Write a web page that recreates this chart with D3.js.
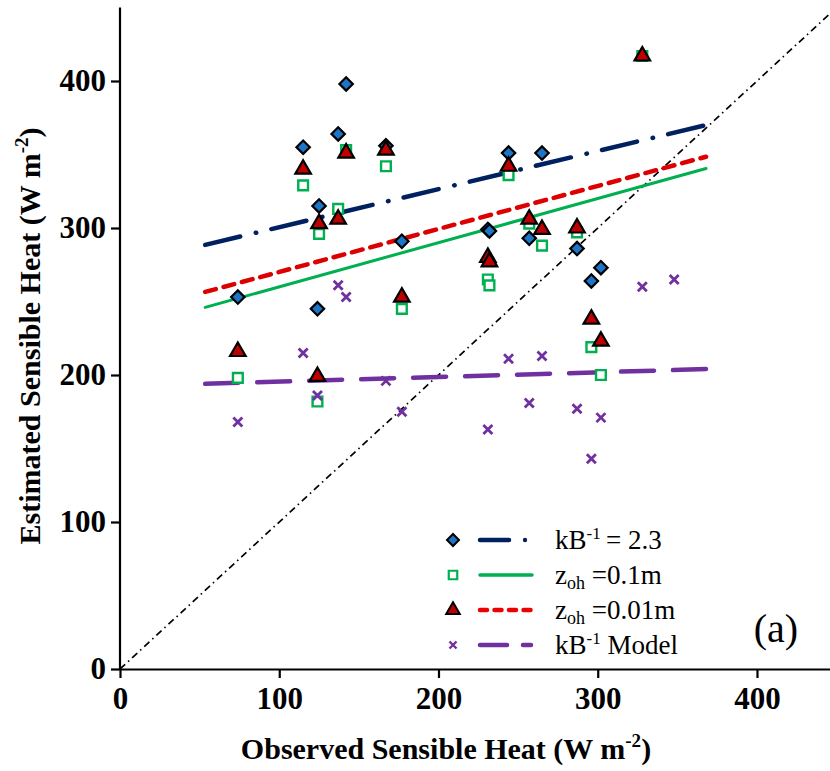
<!DOCTYPE html>
<html>
<head>
<meta charset="utf-8">
<script src="https://cdn.jsdelivr.net/npm/d3@7"></script>
<style>
  body { margin: 0; background: #fff; }
  svg { display: block; font-family: "Liberation Serif", "Times New Roman", Times, "DejaVu Serif", serif; }
</style>
</head>
<body>
<div id="chart"></div>
<script>
// observed sensible heat (x) and estimates from each method (y)
var observed = [74, 115, 124, 125, 137, 142, 167, 177, 231, 232, 244, 257, 265, 287, 296, 302, 328, 348];
var kb23     = [253, 355, 245, 315, 364, 398, 356, 291, 299, 298, 351, 293, 351, 286, 264, 273, null, null];
var zoh01    = [198, 329, 182, 296, 313, 353, 342, 245, 265, 261, 336, 303, 288, 297, 219, 200, 417, null];
var zoh001   = [216, 340, 199, 303, 306, 351, 353, 253, 280, 277, 342, 306, 299, 300, 238, 223, 417, null];
var kbModel  = [168, 215, 186, null, 261, 253, 196, 175, 163, null, 211, 181, 213, 177, 143, 171, 260, 265];

// fitted lines: [x start, y start, x end, y end]
var fitKb23   = [53.5, 288.5, 368, 370];
var fitZoh01  = [53.5, 246, 368, 340.5];
var fitZoh001 = [53.5, 256.5, 368, 348.5];
var fitModel  = [53.5, 194, 368, 204];

var xTicks = [0, 100, 200, 300, 400];
var yTicks = [0, 100, 200, 300, 400];

var W = 830, H = 771;
var svg = d3.select("#chart").append("svg")
    .attr("width", W)
    .attr("height", H);

var x = d3.scaleLinear().domain([0, 450]).range([120, 836.6]);
var y = d3.scaleLinear().domain([0, 450]).range([669, 7.5]);

svg.append("defs").append("clipPath").attr("id", "plot")
  .append("rect").attr("x", 120).attr("y", 0).attr("width", W - 120).attr("height", 669);

// 1:1 line
svg.append("line")
    .attr("clip-path", "url(#plot)")
    .attr("x1", x(0)).attr("y1", y(0))
    .attr("x2", x(450)).attr("y2", y(450))
    .attr("stroke", "#000")
    .attr("stroke-width", 1.7)
    .attr("stroke-dasharray", "7,4,1.5,4");

function fitLine(f, color, width, dash) {
  svg.append("line")
      .attr("x1", x(f[0])).attr("y1", y(f[1]))
      .attr("x2", x(f[2])).attr("y2", y(f[3]))
      .attr("stroke", color)
      .attr("stroke-width", width)
      .attr("stroke-linecap", "round")
      .attr("stroke-dasharray", dash);
}

fitLine(fitKb23, "#002060", 4.5, "36,16,0.5,15.5");
fitLine(fitZoh01, "#00B050", 3, null);
fitLine(fitZoh001, "#DD0000", 4.5, "11,8");
fitLine(fitModel, "#7030A0", 4.5, "33,19");

// marker shapes
var diamond = d3.symbol().type(d3.symbolSquare).size(90)();
var square = d3.symbol().type(d3.symbolSquare).size(95)();
var triangle = d3.symbol().type(d3.symbolTriangle).size(105)();
var cross = "M-4.5,-4.5L4.5,4.5M-4.5,4.5L4.5,-4.5";

function points(vals, path, fill, stroke, sw, rot) {
  var pts = observed.map(function(o, i) { return [o, vals[i]]; })
      .filter(function(d) { return d[1] != null; });
  svg.append("g").selectAll("path")
      .data(pts)
      .enter().append("path")
      .attr("d", path)
      .attr("transform", function(d) {
        return "translate(" + x(d[0]) + "," + y(d[1]) + ")" + (rot ? " rotate(45)" : "");
      })
      .attr("fill", fill)
      .attr("stroke", stroke)
      .attr("stroke-width", sw);
}

points(kb23, diamond, "#1C75C8", "#000", 2.2, true);
points(zoh01, square, "#fff", "#00B050", 2.4, false);
points(zoh001, triangle, "#C00000", "#000", 2.2, false);
points(kbModel, cross, "none", "#7030A0", 2.8, false);

// axes
var xAxis = svg.append("g")
    .attr("transform", "translate(0," + y(0) + ")")
    .call(d3.axisBottom(x).tickValues(xTicks).tickSize(9).tickSizeOuter(0).tickPadding(9));
var yAxis = svg.append("g")
    .attr("transform", "translate(" + x(0) + ",0)")
    .call(d3.axisLeft(y).tickValues(yTicks).tickSize(9).tickSizeOuter(0).tickPadding(5));

[xAxis, yAxis].forEach(function(a) {
  a.select(".domain").attr("stroke", "#000").attr("stroke-width", 2.2);
  a.selectAll(".tick line").attr("stroke", "#000").attr("stroke-width", 2.2);
  a.selectAll(".tick text")
      .attr("fill", "#000")
      .style("font-family", "'Liberation Serif', 'Times New Roman', serif")
      .style("font-weight", "bold")
      .style("font-size", "31px");
});
yAxis.select(".domain").attr("d", "M0," + y(0) + "V" + y(450));

// axis titles
var xt = svg.append("text")
    .attr("x", 446).attr("y", 759)
    .attr("text-anchor", "middle")
    .style("font-weight", "bold").style("font-size", "30px");
xt.append("tspan").text("Observed Sensible Heat (W m");
xt.append("tspan").attr("dy", -12).style("font-size", "19px").text("-2");
xt.append("tspan").attr("dy", 12).text(")");

var yt = svg.append("text")
    .attr("transform", "translate(40,336) rotate(-90)")
    .attr("text-anchor", "middle")
    .style("font-weight", "bold").style("font-size", "30px");
yt.append("tspan").text("Estimated Sensible Heat (W m");
yt.append("tspan").attr("dy", -12).style("font-size", "19px").text("-2");
yt.append("tspan").attr("dy", 12).text(")");

// legend
var legend = svg.append("g");
var rows = [540, 575, 610, 645];

legend.append("path").attr("d", d3.symbol().type(d3.symbolSquare).size(72)())
    .attr("transform", "translate(453," + rows[0] + ") rotate(45)")
    .attr("fill", "#1C75C8").attr("stroke", "#000").attr("stroke-width", 2);
legend.append("line").attr("x1", 480).attr("x2", 509).attr("y1", rows[0]).attr("y2", rows[0])
    .attr("stroke", "#002060").attr("stroke-width", 4.5).attr("stroke-linecap", "round");
legend.append("circle").attr("cx", 525).attr("cy", rows[0]).attr("r", 2.2).attr("fill", "#002060");

legend.append("path").attr("d", d3.symbol().type(d3.symbolSquare).size(72)())
    .attr("transform", "translate(453," + rows[1] + ")")
    .attr("fill", "#fff").attr("stroke", "#00B050").attr("stroke-width", 2.2);
legend.append("line").attr("x1", 480).attr("x2", 532).attr("y1", rows[1]).attr("y2", rows[1])
    .attr("stroke", "#00B050").attr("stroke-width", 3.5).attr("stroke-linecap", "round");

legend.append("path").attr("d", d3.symbol().type(d3.symbolTriangle).size(80)())
    .attr("transform", "translate(453," + rows[2] + ")")
    .attr("fill", "#C00000").attr("stroke", "#000").attr("stroke-width", 2);
legend.append("line").attr("x1", 480).attr("x2", 532).attr("y1", rows[2]).attr("y2", rows[2])
    .attr("stroke", "#EE0000").attr("stroke-width", 4.5).attr("stroke-linecap", "round")
    .attr("stroke-dasharray", "7,7.5");

legend.append("path").attr("d", "M-3.5,-3.5L3.5,3.5M-3.5,3.5L3.5,-3.5")
    .attr("transform", "translate(453," + rows[3] + ")")
    .attr("stroke", "#7030A0").attr("stroke-width", 2.4);
legend.append("line").attr("x1", 480).attr("x2", 507).attr("y1", rows[3]).attr("y2", rows[3])
    .attr("stroke", "#7030A0").attr("stroke-width", 4.5).attr("stroke-linecap", "round");
legend.append("line").attr("x1", 523).attr("x2", 531).attr("y1", rows[3]).attr("y2", rows[3])
    .attr("stroke", "#7030A0").attr("stroke-width", 4.5).attr("stroke-linecap", "round");

function label(yy) {
  return legend.append("text").attr("x", 555).attr("y", yy + 9).style("font-size", "27px");
}
var t1 = label(rows[0]);
t1.append("tspan").text("kB");
t1.append("tspan").attr("dy", -10).style("font-size", "17px").text("-1");
t1.append("tspan").attr("dy", 10).text("\u2009= 2.3");

var t2 = label(rows[1]);
t2.append("tspan").text("z");
t2.append("tspan").attr("dy", 5).style("font-size", "18px").text("oh");
t2.append("tspan").attr("dy", -5).text(" =0.1m");

var t3 = label(rows[2]);
t3.append("tspan").text("z");
t3.append("tspan").attr("dy", 5).style("font-size", "18px").text("oh");
t3.append("tspan").attr("dy", -5).text(" =0.01m");

var t4 = label(rows[3]);
t4.append("tspan").text("kB");
t4.append("tspan").attr("dy", -10).style("font-size", "17px").text("-1");
t4.append("tspan").attr("dy", 10).text(" Model");

svg.append("text").attr("x", 776).attr("y", 642)
    .attr("text-anchor", "middle")
    .style("font-size", "40px").text("(a)");
</script>
</body>
</html>
